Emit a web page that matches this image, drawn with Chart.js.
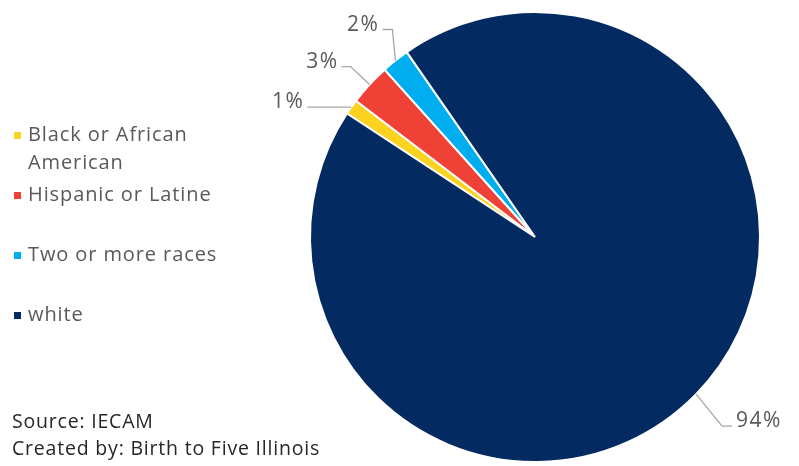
<!DOCTYPE html>
<html lang="en">
<head>
    <meta charset="UTF-8">
    <title>Race of children</title>
    <style>
        body { margin: 0; background: #fff; font-family: "Open Sans", Lato, sans-serif; }
        .wrap { position: relative; width: 799px; height: 466px; }
        #legend { position: absolute; left: 14px; top: 120px; list-style: none; margin: 0; padding: 0; }
        #legend li { position: relative; padding-left: 14px; font-size: 20px; line-height: 28px; color: #595959; width: 200px; letter-spacing: 0.9px; }
        #legend li span { position: absolute; left: 0; top: 12px; width: 7px; height: 7px; }
        .source { position: absolute; left: 12px; top: 407px; font-size: 19.5px; line-height: 27px; color: #262626; letter-spacing: 0.8px; }
    </style>
</head>
<body>
<div class="wrap">
    <canvas id="pie" width="799" height="466"></canvas>
    <ul id="legend"></ul>
    <div class="source">Source: IECAM<br>Created by: Birth to Five Illinois</div>
</div>

<script src="https://cdn.jsdelivr.net/npm/chart.js"></script>
<script>
    // data
    const categories = ['Black or African American', 'Hispanic or Latine', 'Two or more races', 'white'];
    const shares = [1.1, 3.0, 2.0, 93.9];
    const shownLabels = ['1%', '3%', '2%', '94%'];
    const colors = ['#FBD31E', '#EF4135', '#00AEEF', '#032B61'];

    // leader line elbows (dx, dy from the arc point) and end length
    const leaders = [
        { elbow: [-44, 0], tail: 0, align: 'right' },
        { elbow: [-19, -18], tail: -9, align: 'right' },
        { elbow: [-3, -31], tail: -10, align: 'right' },
        { elbow: [26, 32], tail: 10, align: 'left' }
    ];

    const outsideLabels = {
        id: 'outsideLabels',
        afterDatasetsDraw(chart) {
            const ctx = chart.ctx;
            const arcs = chart.getDatasetMeta(0).data;
            ctx.save();
            ctx.font = '21px "Open Sans", Lato, sans-serif';
            ctx.letterSpacing = '1.5px';
            ctx.textBaseline = 'middle';
            arcs.forEach((arc, i) => {
                const mid = (arc.startAngle + arc.endAngle) / 2;
                const x0 = arc.x + Math.cos(mid) * arc.outerRadius;
                const y0 = arc.y + Math.sin(mid) * arc.outerRadius;
                const l = leaders[i];
                const x1 = x0 + l.elbow[0], y1 = y0 + l.elbow[1];
                const x2 = x1 + l.tail;
                ctx.strokeStyle = '#A6A6A6';
                ctx.lineWidth = 1.3;
                ctx.beginPath();
                ctx.moveTo(x0, y0);
                ctx.lineTo(x1, y1);
                ctx.lineTo(x2, y1);
                ctx.stroke();
                ctx.fillStyle = '#595959';
                ctx.textAlign = l.align;
                ctx.fillText(shownLabels[i], l.align === 'right' ? x2 - 3 : x2 + 4, y1 - 5);
            });
            ctx.restore();
        }
    };

    const chart = new Chart(document.getElementById('pie'), {
        type: 'pie',
        data: {
            labels: categories,
            datasets: [{
                data: shares,
                backgroundColor: colors,
                borderColor: '#ffffff',
                borderWidth: 2
            }]
        },
        options: {
            responsive: false,
            animation: false,
            rotation: -56.7,
            layout: { padding: { left: 309, right: 38, top: 10, bottom: 2 } },
            plugins: {
                legend: { display: false },
                tooltip: { enabled: false }
            }
        },
        plugins: [outsideLabels]
    });

    // html legend
    const legend = document.getElementById('legend');
    const gaps = [4, 32, 32, 0];
    categories.forEach((name, i) => {
        const li = document.createElement('li');
        li.innerHTML = '<span style="background:' + colors[i] + '"></span>' + name;
        li.style.marginBottom = gaps[i] + 'px';
        legend.appendChild(li);
    });
</script>
</body>
</html>
